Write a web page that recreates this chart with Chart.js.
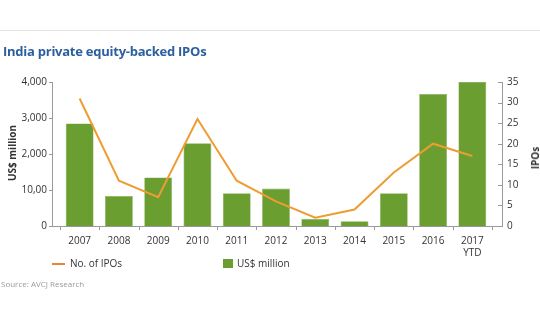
<!DOCTYPE html>
<html>
<head>
<meta charset="utf-8">
<script src="https://cdn.jsdelivr.net/npm/chart.js@4"></script>
<style>
  html, body { margin: 0; padding: 0; background: #fff; }
  #wrap { position: relative; width: 540px; height: 334px; overflow: hidden; font-family: "Open Sans", sans-serif; }
  canvas { position: absolute; left: 0; top: 0; }
  .t { position: absolute; white-space: nowrap; }
  #rule { position: absolute; left: 0; top: 30px; width: 540px; height: 1px; background: #e4e4e4; }
  #title { left: 3px; top: 42px; font-size: 13px; font-weight: 700; color: #2c5f9f; letter-spacing: -0.25px; }
  #ytl { left: 11.5px; top: 153px; transform: translate(-50%, -50%) rotate(-90deg); font-size: 10px; font-weight: 700; color: #333; }
  #ytr { left: 535px; top: 158px; transform: translate(-50%, -50%) rotate(-90deg); font-size: 10px; font-weight: 700; color: #333; }
  #lg1line { position: absolute; left: 52px; top: 263px; width: 13px; height: 2px; background: #e8843c; }
  #lg1 { left: 70px; top: 256px; font-size: 10px; color: #333; }
  #lg2box { position: absolute; left: 223px; top: 259px; width: 10px; height: 9px; background: #6b9e31; }
  #lg2 { left: 237px; top: 256px; font-size: 10px; color: #333; }
  #src { left: 1px; top: 278px; font-size: 8px; color: #9a9a9a; }
</style>
</head>
<body>
<div id="wrap">
  <canvas id="c" width="540" height="334"></canvas>
  <div id="rule"></div>
  <div class="t" id="title">India private equity-backed IPOs</div>
  <div class="t" id="ytl">US$ million</div>
  <div class="t" id="ytr">IPOs</div>
  <div id="lg1line"></div><div class="t" id="lg1">No. of IPOs</div>
  <div id="lg2box"></div><div class="t" id="lg2">US$ million</div>
  <div class="t" id="src">Source: AVCJ Research</div>
</div>
<script>
const categories = ["2007", "2008", "2009", "2010", "2011", "2012", "2013", "2014", "2015", "2016", ["2017", "YTD"]];
const usdMillion = [2850, 830, 1350, 2300, 910, 1040, 200, 130, 910, 3670, 4010];
const ipoCount = [31, 11, 7, 26, 11, 6, 2, 4, 13, 20, 17];
const leftTicks = [0, 1000, 2000, 3000, 4000];
const leftTickLabels = ["0", "10,00", "2,000", "3,000", "4,000"];
const rightTicks = [0, 5, 10, 15, 20, 25, 30, 35];

const axisColor = '#9a9a9a';
const axesPlugin = {
  id: 'customAxes',
  afterDraw(chart) {
    const ctx = chart.ctx;
    const a = chart.chartArea;
    const y = chart.scales.y, y1 = chart.scales.y1;
    const lx = a.left - 8, rx = a.right + 10;
    ctx.save();
    ctx.strokeStyle = axisColor;
    ctx.lineWidth = 1;
    ctx.beginPath();
    ctx.moveTo(lx + 0.5, y.getPixelForValue(4000));
    ctx.lineTo(lx + 0.5, a.bottom);
    ctx.moveTo(lx, a.bottom + 0.5);
    ctx.lineTo(rx + 1, a.bottom + 0.5);
    ctx.moveTo(rx + 0.5, y1.getPixelForValue(35));
    ctx.lineTo(rx + 0.5, a.bottom);
    leftTicks.forEach(v => {
      const py = Math.round(y.getPixelForValue(v)) + 0.5;
      ctx.moveTo(lx - 3, py); ctx.lineTo(lx + 0.5, py);
    });
    rightTicks.forEach(v => {
      const py = Math.round(y1.getPixelForValue(v)) + 0.5;
      ctx.moveTo(rx - 4, py); ctx.lineTo(rx + 0.5, py);
    });
    const n = categories.length;
    const w = (a.right - a.left) / n;
    for (let i = 0; i <= n; i++) {
      const px = Math.round(a.left + i * w) + 0.5;
      ctx.moveTo(px, a.bottom); ctx.lineTo(px, a.bottom + 4);
    }
    ctx.stroke();
    ctx.restore();
  }
};

new Chart(document.getElementById('c'), {
  type: 'bar',
  data: {
    labels: categories,
    datasets: [
      {
        type: 'line',
        label: 'No. of IPOs',
        data: ipoCount,
        yAxisID: 'y1',
        borderColor: '#ee9c33',
        borderWidth: 2,
        pointRadius: 0,
        tension: 0,
        fill: false,
        order: 0
      },
      {
        type: 'bar',
        label: 'US$ million',
        data: usdMillion,
        yAxisID: 'y',
        backgroundColor: '#6b9e31',
        borderColor: '#86b052',
        borderWidth: 0.6,
        borderSkipped: 'bottom',
        categoryPercentage: 1,
        barPercentage: 0.71,
        order: 1
      }
    ]
  },
  options: {
    responsive: false,
    animation: false,
    devicePixelRatio: 1,
    layout: { padding: { left: 0, right: 0, top: 82, bottom: 0 } },
    plugins: { legend: { display: false }, tooltip: { enabled: false }, title: { display: false } },
    scales: {
      x: {
        grid: { display: false, drawTicks: false },
        border: { display: false },
        ticks: { color: '#333', font: { family: 'Open Sans', size: 10 }, padding: 9, maxRotation: 0, autoSkip: false },
        afterFit(s) { s.height = 108; }
      },
      y: {
        position: 'left',
        min: 0, max: 4000,
        grid: { display: false, drawTicks: false },
        border: { display: false },
        afterBuildTicks(s) { s.ticks = leftTicks.map(v => ({ value: v })); },
        ticks: {
          color: '#333', font: { family: 'Open Sans', size: 10 }, padding: 13,
          callback(v) { const i = leftTicks.indexOf(v); return i >= 0 ? leftTickLabels[i] : ''; }
        },
        afterFit(s) { s.width = 60; }
      },
      y1: {
        position: 'right',
        min: 0, max: 35,
        grid: { display: false, drawTicks: false },
        border: { display: false },
        afterBuildTicks(s) { s.ticks = rightTicks.map(v => ({ value: v })); },
        ticks: { color: '#333', font: { family: 'Open Sans', size: 10 }, padding: 15 },
        afterFit(s) { s.width = 48; }
      }
    }
  },
  plugins: [axesPlugin]
});
</script>
</body>
</html>
